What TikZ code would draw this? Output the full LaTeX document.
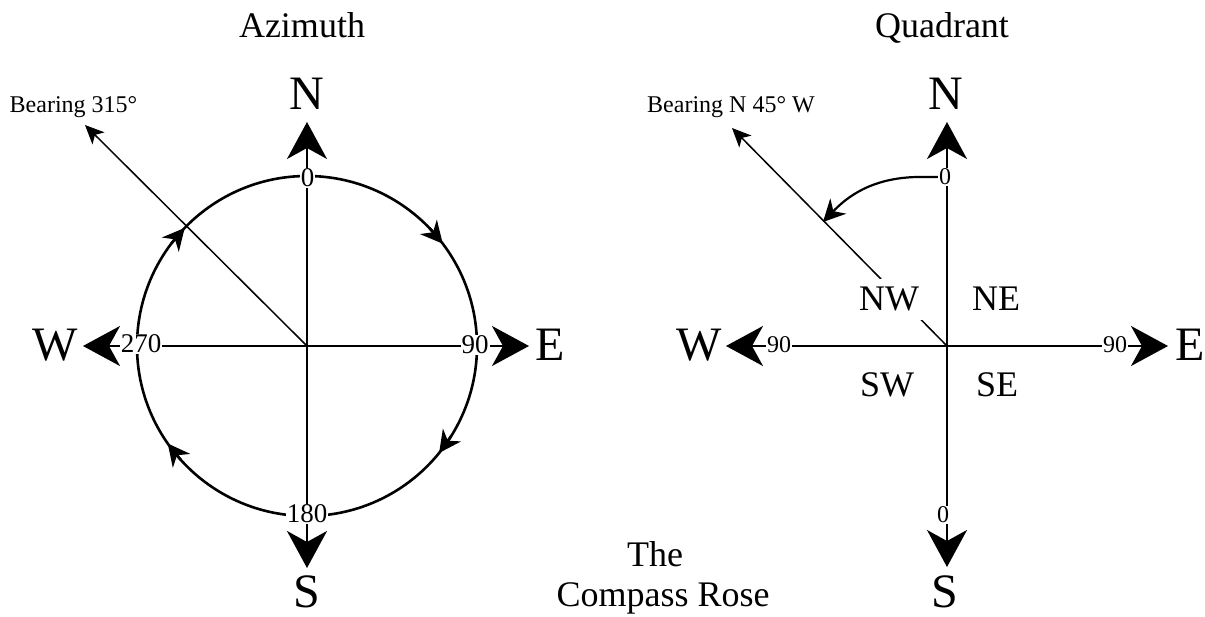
\documentclass[tikz,border=0pt]{standalone}
\usepackage{fontspec}
\setmainfont{Liberation Serif}
\usetikzlibrary{arrows.meta,calc}
\begin{document}
\begin{tikzpicture}[x=1pt,y=-1pt,
  axis/.style={line width=2pt},
  bigtip/.style={line width=2pt,-{Stealth[length=37pt,width=40pt,inset=11pt]}},
  ring/.style={line width=2.6pt},
  arcarrow/.style={line width=2.6pt,-{Stealth[length=22pt,width=22pt,inset=7pt]}},
  bearing/.style={line width=1.5pt,-{Stealth[length=19pt,width=17pt,inset=5pt]}},
  degL/.style={fill=white,inner sep=1pt,font=\fontsize{27}{27}\selectfont},
  degR/.style={fill=white,inner sep=1pt,font=\fontsize{24}{24}\selectfont},
  dirlbl/.style={font=\fontsize{48}{48}\selectfont,inner sep=0pt,anchor=base},
  title/.style={font=\fontsize{36}{36}\selectfont,inner sep=0pt,anchor=base},
  quad/.style={font=\fontsize{36}{36}\selectfont,inner sep=0pt,anchor=base},
  small/.style={font=\fontsize{24}{24}\selectfont,inner sep=0pt,anchor=base}]
\useasboundingbox (0,0) rectangle (1205,617);

% ---------------- Left: Azimuth ----------------
\coordinate (C1) at (307,346);
\coordinate (N1) at (307,122);
\coordinate (S1) at (307,568);
\coordinate (W1) at (83,346);
\coordinate (E1) at (529,346);
\coordinate (B1) at (85,125);

\draw[bearing] (C1) -- (B1);
\draw[ring] (C1) circle[radius=170];
\foreach \a in {53,129,235,314}{
  \draw[arcarrow] ($(C1)+(\a-97:170)$) -- ($(C1)+(\a-90:170)$);
}
\draw[bigtip] (C1) -- (N1);
\draw[bigtip] (C1) -- (S1);
\draw[bigtip] (C1) -- (W1);
\draw[bigtip] (C1) -- (E1);

\node[degL] (z0) at (307.5,178) {0};
\node[degL] (z90) at (475,345) {90};
\node[degL] (z180) at (307,514) {180};
\node[degL] (z270) at (141,344) {270};

\node[dirlbl] (lN) at (307,110) {N};
\node[dirlbl] (lS) at (307,607) {S};
\node[dirlbl] (lW) at (55,361) {W};
\node[dirlbl] (lE) at (550,361) {E};

\node[small] (lb) at (73.5,113) {Bearing 315°};
\node[title] (ta) at (302,38) {Azimuth};

% ---------------- Right: Quadrant ----------------
\coordinate (C2) at (947,346);
\coordinate (N2) at (947,122);
\coordinate (S2) at (947,567);
\coordinate (W2) at (726,346);
\coordinate (E2) at (1168,346);
\coordinate (B2) at (732,128);

\draw[bearing] (C2) -- (B2);
\draw[bigtip] (C2) -- (N2);
\draw[bigtip] (C2) -- (S2);
\draw[bigtip] (C2) -- (W2);
\draw[bigtip] (C2) -- (E2);

\node[quad,fill=white,inner sep=8pt,anchor=base] (qNW) at (889,311) {NW};
\node[quad] (qNE) at (996,311) {NE};
\node[quad] (qSW) at (887,397) {SW};
\node[quad] (qSE) at (997,397) {SE};

\node[degR] (q0) at (945,177) {0};
\node[degR] (q0s) at (943,515) {0};
\node[degR] (q90w) at (779,345) {90};
\node[degR] (q90e) at (1115,345) {90};

\coordinate (arcEnd) at (823,222);
\draw[line width=2.2pt,-{Stealth[length=22pt,width=22pt,inset=7pt]}]
  (q0.west) -- ++(-14,0) .. controls (872,176) and (846,198) .. (arcEnd);

\node[dirlbl] (rN) at (946,110) {N};
\node[dirlbl] (rS) at (945,607) {S};
\node[dirlbl] (rW) at (699,361) {W};
\node[dirlbl] (rE) at (1190,361) {E};

\node[small] (rb) at (731,113) {Bearing N 45° W};
\node[title] (tq) at (942,38) {Quadrant};

% ---------------- Centre caption ----------------
\node[title] (t1) at (655,566) {The};
\node[title] (t2) at (663,606) {Compass Rose};
\end{tikzpicture}
\end{document}
